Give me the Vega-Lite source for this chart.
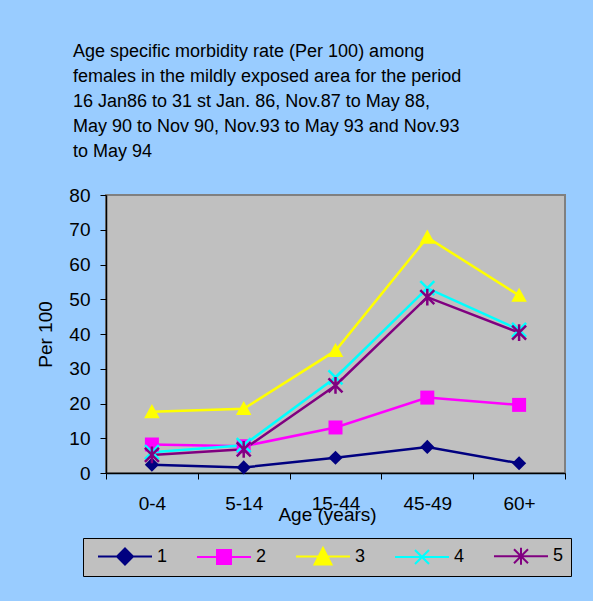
{
  "$schema": "https://vega.github.io/schema/vega-lite/v6.json",
  "width": 459,
  "height": 278,
  "autosize": {"type": "none"},
  "padding": {"left": 106, "top": 195, "right": 28, "bottom": 128},
  "background": "#99CCFF",
  "config": {
    "font": "Liberation Sans",
    "view": {"fill": "#C0C0C0", "stroke": "#808080", "strokeWidth": 2},
    "axis": {"grid": false, "domainColor": "#000000", "tickColor": "#000000", "labelColor": "#000000", "titleColor": "#000000", "labelFontSize": 19, "titleFontSize": 19, "titleFontWeight": "normal", "tickSize": 6}
  },
  "title": {
    "text": ["Age specific morbidity rate (Per 100) among", "females in the mildly exposed area for the period", "16 Jan86 to 31 st Jan. 86, Nov.87 to May 88,", "May 90 to Nov 90, Nov.93 to May 93 and Nov.93", "to May 94"],
    "anchor": "start",
    "frame": "group",
    "dx": -33,
    "offset": 25,
    "fontSize": 18,
    "fontWeight": "normal",
    "lineHeight": 25,
    "color": "#000000"
  },
  "data": {
    "values": [
      {"series": "1", "age": "0-4", "value": 2.4},
      {"series": "1", "age": "5-14", "value": 1.6},
      {"series": "1", "age": "15-44", "value": 4.4},
      {"series": "1", "age": "45-49", "value": 7.5},
      {"series": "1", "age": "60+", "value": 2.8},
      {"series": "2", "age": "0-4", "value": 8.2},
      {"series": "2", "age": "5-14", "value": 7.7},
      {"series": "2", "age": "15-44", "value": 13.1},
      {"series": "2", "age": "45-49", "value": 21.7},
      {"series": "2", "age": "60+", "value": 19.6},
      {"series": "3", "age": "0-4", "value": 17.6},
      {"series": "3", "age": "5-14", "value": 18.5},
      {"series": "3", "age": "15-44", "value": 35.2},
      {"series": "3", "age": "45-49", "value": 67.8},
      {"series": "3", "age": "60+", "value": 51.1},
      {"series": "4", "age": "0-4", "value": 6.0},
      {"series": "4", "age": "5-14", "value": 8.0},
      {"series": "4", "age": "15-44", "value": 27.5},
      {"series": "4", "age": "45-49", "value": 53.2},
      {"series": "4", "age": "60+", "value": 41.2},
      {"series": "5", "age": "0-4", "value": 5.2},
      {"series": "5", "age": "5-14", "value": 6.8},
      {"series": "5", "age": "15-44", "value": 25.2},
      {"series": "5", "age": "45-49", "value": 50.6},
      {"series": "5", "age": "60+", "value": 40.4}
    ]
  },
  "encoding": {
    "x": {
      "field": "age", "type": "ordinal", "sort": ["0-4", "5-14", "15-44", "45-49", "60+"],
      "bandPosition": 0.5,
      "scale": {"type": "band", "paddingInner": 0, "paddingOuter": 0},
      "axis": {"title": "Age (years)", "labelAngle": 0, "tickBand": "extent", "labelPadding": 15, "titlePadding": -8, "titleX": 221, "domainWidth": 1.5}
    },
    "y": {
      "field": "value", "type": "quantitative",
      "scale": {"domain": [0, 80]},
      "axis": {"title": "Per 100", "values": [0, 10, 20, 30, 40, 50, 60, 70, 80], "labelPadding": 10, "titlePadding": 13, "domainWidth": 1.5}
    },
    "color": {
      "field": "series", "type": "nominal",
      "scale": {"domain": ["1", "2", "3", "4", "5"], "range": ["#000080", "#FF00FF", "#FFFF00", "#00FFFF", "#800080"]}
    }
  },
  "layer": [
    {
      "mark": {"type": "line", "strokeWidth": 2.5},
      "encoding": {
        "color": {
          "field": "series", "type": "nominal",
          "legend": {
            "title": null,
            "orient": "none",
            "legendX": -23,
            "legendY": 343,
            "direction": "horizontal",
            "fillColor": "#C0C0C0",
            "strokeColor": "#000000",
            "padding": 7,
            "symbolSize": 400,
            "symbolStrokeWidth": 2,
            "labelFontSize": 18,
            "labelColor": "#000000",
            "labelOffset": 21,
            "columnPadding": 21,
            "symbolOffset": 24,
            "encode": {
              "symbols": {
                "update": {
                  "shape": {"signal": "datum.value == '1' ? 'M-2.7,0L2.7,0M0,-0.8L0.8,0L0,0.8L-0.8,0Z' : datum.value == '2' ? 'M-2.7,0L2.7,0M-0.7,-0.7L0.7,-0.7L0.7,0.7L-0.7,0.7Z' : datum.value == '3' ? 'M-2.7,0L2.7,0M0,-0.85L0.85,0.8L-0.85,0.8Z' : datum.value == '4' ? 'M-2.7,0L2.7,0M-0.7,-0.7L0.7,0.7M-0.7,0.7L0.7,-0.7' : 'M-2.7,0L2.7,0M-0.7,-0.7L0.7,0.7M-0.7,0.7L0.7,-0.7M0,-0.85L0,0.85'"},
                  "fill": {"signal": "scale('color', datum.value)"},
                  "stroke": {"signal": "scale('color', datum.value)"},
                  "strokeWidth": {"value": 2},
                  "opacity": {"value": 1},
                  "fillOpacity": {"value": 1}
                }
              }
            }
          }
        }
      }
    },
    {
      "transform": [{"filter": "datum.series == '1'"}],
      "mark": {"type": "point", "filled": true, "shape": "diamond", "size": 200, "opacity": 1}
    },
    {
      "transform": [{"filter": "datum.series == '2'"}],
      "mark": {"type": "point", "filled": true, "shape": "square", "size": 196, "opacity": 1}
    },
    {
      "transform": [{"filter": "datum.series == '3'"}],
      "mark": {"type": "point", "filled": true, "shape": "M0,-1.1L1.1,0.9L-1.1,0.9Z", "size": 200, "opacity": 1}
    },
    {
      "transform": [{"filter": "datum.series == '4'"}],
      "mark": {"type": "point", "filled": false, "shape": "M-1,-1L1,1M-1,1L1,-1", "size": 196, "strokeWidth": 2.5, "opacity": 1}
    },
    {
      "transform": [{"filter": "datum.series == '5'"}],
      "mark": {"type": "point", "filled": false, "shape": "M-1,-1L1,1M-1,1L1,-1M0,-1.2L0,1.2", "size": 196, "strokeWidth": 2.5, "opacity": 1}
    }
  ]
}
